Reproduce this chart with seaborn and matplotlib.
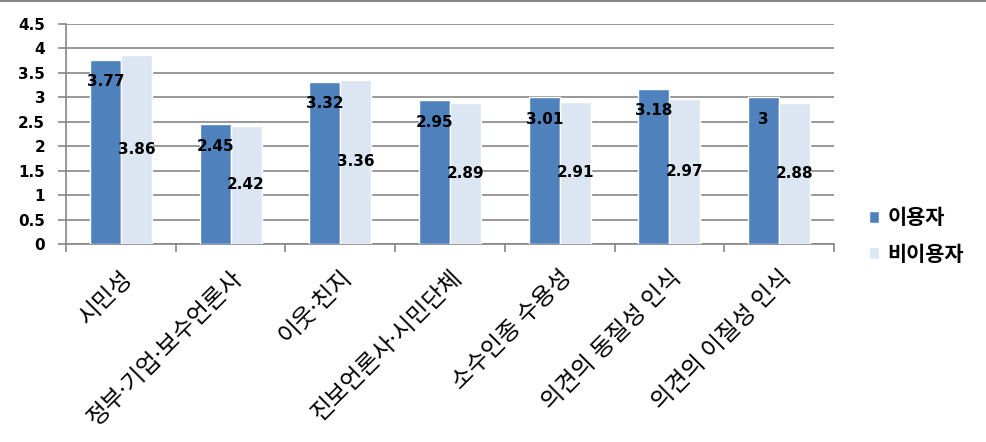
import matplotlib
matplotlib.use("Agg")
import matplotlib.pyplot as plt
import seaborn as sns
import pandas as pd
from matplotlib.lines import Line2D
from matplotlib.patches import Patch

categories = ["시민성", "정부·기업·보수언론사", "이웃·친지", "진보언론사·시민단체",
              "소수인종 수용성", "의견의 동질성 인식", "의견의 이질성 인식"]
users = [3.77, 2.45, 3.32, 2.95, 3.01, 3.18, 3.00]
nonusers = [3.86, 2.42, 3.36, 2.89, 2.91, 2.97, 2.88]
series_names = ["이용자", "비이용자"]
yticks = [0, 0.5, 1, 1.5, 2, 2.5, 3, 3.5, 4, 4.5]

df = pd.DataFrame({
    "category": categories * 2,
    "series": [series_names[0]] * len(categories) + [series_names[1]] * len(categories),
    "value": users + nonusers,
})

sns.set_theme(style="white")
plt.rcParams["font.family"] = ["Noto Sans CJK KR", "DejaVu Sans"]
plt.rcParams["text.color"] = "black"
plt.rcParams["xtick.color"] = "black"
plt.rcParams["ytick.color"] = "black"
plt.rcParams["axes.labelcolor"] = "black"

colors = ["#4F81BD", "#DCE6F2"]
grid_c = "#868686"
num_font = ["DejaVu Sans"]
lab_font = ["Noto Sans", "Noto Sans CJK KR"]

fig = plt.figure(figsize=(9.86, 4.42), dpi=100)
ax = fig.add_axes([66/986, 1-244/442, (834-66)/986, 220/442])

sns.barplot(data=df, x="category", y="value", hue="series", palette=colors,
            width=0.565, ax=ax, legend=False, saturation=1, zorder=3)

ax.set_ylim(0, 4.5)
ax.set_xlim(-0.5, len(categories) - 0.5)
ax.set_yticks(yticks)
ax.set_yticklabels([f"{t:g}" for t in yticks], fontsize=11, fontweight="bold",
                   family=num_font, color="black")
ax.yaxis.grid(True, color=grid_c, linewidth=1.2, zorder=0)
ax.set_axisbelow(True)
ax.set_xlabel("")
ax.set_ylabel("")

for s in ["top", "right"]:
    ax.spines[s].set_visible(False)
for s in ["left", "bottom"]:
    ax.spines[s].set_color(grid_c)
    ax.spines[s].set_linewidth(1.2)

ax.tick_params(axis="y", which="major", left=True, length=6, color=grid_c, width=1.2, pad=9)
ax.set_xticks([i - 0.5 for i in range(len(categories) + 1)], minor=True)
ax.tick_params(axis="x", which="minor", bottom=True, length=6, color=grid_c, width=1.2)
ax.set_xticks(range(len(categories)))
ax.tick_params(axis="x", which="major", bottom=False, pad=10)
ax.set_xticklabels(categories, rotation=45, ha="right", rotation_mode="anchor",
                   fontsize=17, fontweight="normal", family=lab_font, color="black")

# value labels: first series inside end, second centered
for ci, cont in enumerate(ax.containers):
    vals = users if ci == 0 else nonusers
    for bar, v in zip(cont, vals):
        xc = bar.get_x() + bar.get_width() / 2
        if ci == 0:
            ax.annotate(f"{v:g}", (xc, v), xytext=(0, -16), textcoords="offset points",
                        ha="center", va="center", fontsize=11, fontweight="bold",
                        family=num_font, color="black", zorder=5)
        else:
            ax.annotate(f"{v:g}", (xc, v / 2), ha="center", va="center",
                        fontsize=11, fontweight="bold", family=num_font,
                        color="black", zorder=5)

handles = [Patch(facecolor=colors[0]), Patch(facecolor=colors[1])]
fig.legend(handles, series_names, loc="center left", bbox_to_anchor=(850/986, 1-236/442),
           frameon=False, prop={"size": 15, "weight": "bold", "family": ["Noto Sans CJK KR"]},
           handlelength=0.5, handleheight=0.5, handletextpad=0.4, labelspacing=0.75,
           labelcolor="black")

fig.add_artist(Line2D([0, 1], [1 - 1/442, 1 - 1/442], transform=fig.transFigure,
                      color=grid_c, linewidth=1.5))

fig.savefig("out.png", dpi=100)
